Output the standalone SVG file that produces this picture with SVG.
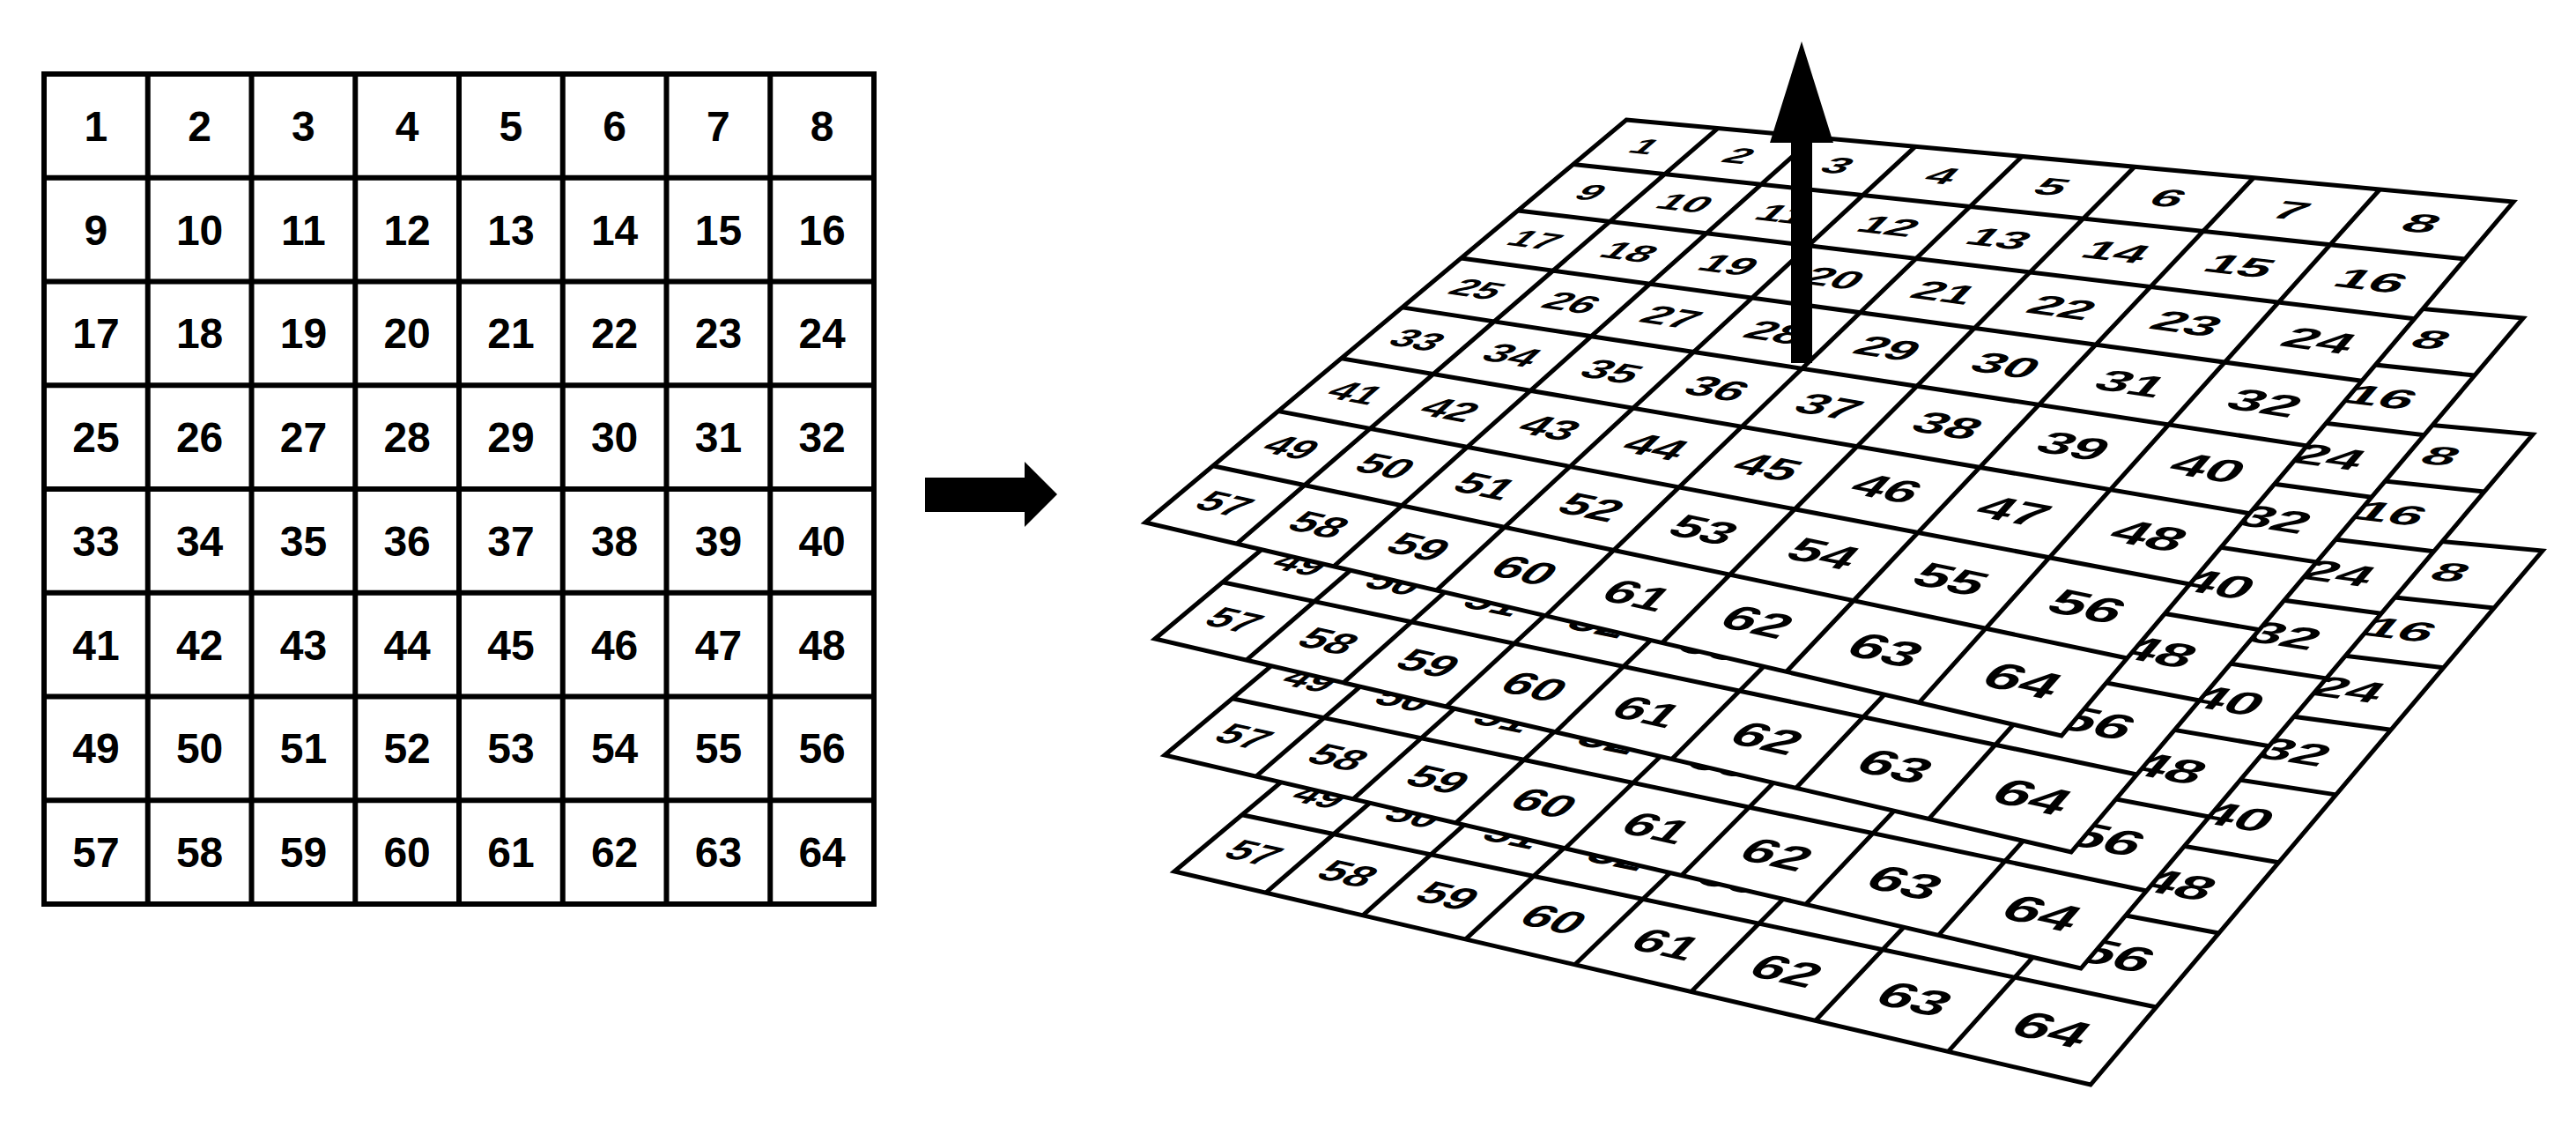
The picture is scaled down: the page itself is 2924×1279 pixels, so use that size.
<svg xmlns="http://www.w3.org/2000/svg" xmlns:xlink="http://www.w3.org/1999/xlink" width="2924" height="1279" viewBox="0 0 2924 1279">
<style>
.g{fill:none;stroke:#000;stroke-width:6}
.f{fill:#fff;stroke:#000;stroke-width:5;stroke-linejoin:miter}
.pl{fill:none;stroke:#000;stroke-width:5}
.t{font-family:"Liberation Sans",Arial,sans-serif;font-weight:bold;font-size:48px;text-anchor:middle;fill:#000}
.p{font-family:"Liberation Sans",Arial,sans-serif;font-weight:bold;font-size:44px;text-anchor:middle;fill:#000}
.a{fill:#000}
</style>
<defs>
<g id="plate">
<polygon class="f" points="1846,136 2853,229 2340,835 1300,593"/>
<path class="pl" d="M1949.9,145.6L1403.8,617.2M2059.1,155.7L1513.9,642.8M2174,166.3L1630.6,669.9M2295.2,177.5L1754.6,698.8M2423,189.3L1886.7,729.5M2558.1,201.8L2027.7,762.3M2701.3,215L2178.4,797.4M1785.5,186.6L2798,294M1723,238.9L2740.7,361.7M1658.4,293L2680.9,432.3M1591.6,348.9L2618.6,505.9M1522.5,406.7L2553.6,582.7M1451,466.6L2485.6,663M1376.8,528.7L2414.5,747"/>
<g class="p">
<text y="15" transform="matrix(1.04 .103 -.604 .513 1867.4 166.2)">1</text>
<text y="15" transform="matrix(1.109 .110 -.597 .531 1973.9 176.8)">2</text>
<text y="15" transform="matrix(1.178 .117 -.591 .549 2086.1 187.9)">3</text>
<text y="15" transform="matrix(1.247 .124 -.584 .567 2204.4 199.6)">4</text>
<text y="15" transform="matrix(1.317 .130 -.578 .585 2329.1 212)">5</text>
<text y="15" transform="matrix(1.386 .137 -.571 .603 2461 225)">6</text>
<text y="15" transform="matrix(1.455 .144 -.565 .621 2600.5 238.9)">7</text>
<text y="15" transform="matrix(1.524 .151 -.558 .639 2748.4 253.5)">8</text>
<text y="15" transform="matrix(1.04 .121 -.628 .533 1806 218.4)">9</text>
<text y="15" transform="matrix(1.111 .129 -.622 .553 1912.8 230.5)">10</text>
<text y="15" transform="matrix(1.182 .138 -.616 .572 2025.3 243.2)">11</text>
<text y="15" transform="matrix(1.253 .146 -.610 .592 2144 256.7)">12</text>
<text y="15" transform="matrix(1.323 .155 -.604 .611 2269.3 270.9)">13</text>
<text y="15" transform="matrix(1.394 .163 -.598 .631 2402 285.9)">14</text>
<text y="15" transform="matrix(1.465 .172 -.592 .650 2542.4 301.8)">15</text>
<text y="15" transform="matrix(1.536 .180 -.586 .670 2691.5 318.7)">16</text>
<text y="15" transform="matrix(1.04 .139 -.651 .553 1742.5 272.3)">17</text>
<text y="15" transform="matrix(1.113 .149 -.646 .574 1849.5 286.1)">18</text>
<text y="15" transform="matrix(1.185 .159 -.640 .596 1962.3 300.6)">19</text>
<text y="15" transform="matrix(1.258 .169 -.635 .617 2081.4 315.8)">20</text>
<text y="15" transform="matrix(1.331 .179 -.629 .638 2207.3 332)">21</text>
<text y="15" transform="matrix(1.404 .189 -.624 .659 2340.6 349.1)">22</text>
<text y="15" transform="matrix(1.476 .199 -.618 .681 2482.1 367.2)">23</text>
<text y="15" transform="matrix(1.549 .209 -.613 .702 2632.4 386.5)">24</text>
<text y="15" transform="matrix(1.04 .157 -.675 .573 1676.8 328.2)">25</text>
<text y="15" transform="matrix(1.114 .169 -.670 .596 1784 343.6)">26</text>
<text y="15" transform="matrix(1.189 .180 -.665 .619 1897 359.9)">27</text>
<text y="15" transform="matrix(1.263 .192 -.660 .642 2016.5 377.2)">28</text>
<text y="15" transform="matrix(1.338 .203 -.656 .664 2142.9 395.4)">29</text>
<text y="15" transform="matrix(1.412 .215 -.651 .687 2276.9 414.8)">30</text>
<text y="15" transform="matrix(1.487 .226 -.646 .710 2419.3 435.4)">31</text>
<text y="15" transform="matrix(1.561 .238 -.641 .733 2570.7 457.2)">32</text>
<text y="15" transform="matrix(1.04 .176 -.699 .594 1608.9 385.9)">33</text>
<text y="15" transform="matrix(1.116 .189 -.695 .619 1716.1 403.2)">34</text>
<text y="15" transform="matrix(1.192 .203 -.690 .643 1829.3 421.5)">35</text>
<text y="15" transform="matrix(1.268 .216 -.686 .668 1949.1 440.9)">36</text>
<text y="15" transform="matrix(1.345 .229 -.681 .692 2075.9 461.4)">37</text>
<text y="15" transform="matrix(1.421 .242 -.677 .717 2210.6 483.1)">38</text>
<text y="15" transform="matrix(1.497 .256 -.672 .741 2353.8 506.3)">39</text>
<text y="15" transform="matrix(1.573 .269 -.668 .766 2506.3 530.9)">40</text>
<text y="15" transform="matrix(1.04 .194 -.723 .614 1538.5 445.7)">41</text>
<text y="15" transform="matrix(1.118 .209 -.719 .640 1645.7 465)">42</text>
<text y="15" transform="matrix(1.196 .224 -.715 .666 1759 485.4)">43</text>
<text y="15" transform="matrix(1.274 .239 -.711 .692 1879.1 507)">44</text>
<text y="15" transform="matrix(1.351 .253 -.708 .719 2006.3 529.9)">45</text>
<text y="15" transform="matrix(1.429 .268 -.704 .745 2141.6 554.3)">46</text>
<text y="15" transform="matrix(1.507 .283 -.700 .771 2285.6 580.2)">47</text>
<text y="15" transform="matrix(1.585 .298 -.696 .797 2439.2 607.9)">48</text>
<text y="15" transform="matrix(1.04 .212 -.746 .634 1465.6 507.7)">49</text>
<text y="15" transform="matrix(1.12 .228 -.743 .662 1572.7 529.1)">50</text>
<text y="15" transform="matrix(1.199 .245 -.739 .690 1686.1 551.7)">51</text>
<text y="15" transform="matrix(1.279 .261 -.736 .718 1806.3 575.8)">52</text>
<text y="15" transform="matrix(1.359 .278 -.733 .745 1933.9 601.3)">53</text>
<text y="15" transform="matrix(1.439 .294 -.730 .773 2069.7 628.4)">54</text>
<text y="15" transform="matrix(1.518 .311 -.726 .801 2214.4 657.4)">55</text>
<text y="15" transform="matrix(1.598 .327 -.723 .829 2369.1 688.3)">56</text>
<text y="15" transform="matrix(1.04 .230 -.770 .654 1390 571.9)">57</text>
<text y="15" transform="matrix(1.121 .248 -.767 .683 1497 595.6)">58</text>
<text y="15" transform="matrix(1.203 .266 -.765 .713 1610.3 620.7)">59</text>
<text y="15" transform="matrix(1.284 .284 -.762 .742 1730.6 647.3)">60</text>
<text y="15" transform="matrix(1.366 .302 -.759 .772 1858.5 675.6)">61</text>
<text y="15" transform="matrix(1.447 .320 -.756 .801 1994.7 705.7)">62</text>
<text y="15" transform="matrix(1.529 .338 -.754 .830 2140.1 737.9)">63</text>
<text y="15" transform="matrix(1.61 .356 -.751 .860 2295.7 772.4)">64</text>
</g>
</g>
</defs>

<g id="grid2d">
<rect class="g" x="50" y="84" width="942" height="942" fill="#fff"/>
<path class="g" d="M167.75,84V1026M285.5,84V1026M403.25,84V1026M521,84V1026M638.75,84V1026M756.5,84V1026M874.25,84V1026M50,201.75H992M50,319.5H992M50,437.25H992M50,555H992M50,672.75H992M50,790.5H992M50,908.25H992"/>
<g class="t">
<text x="108.9" y="159.9">1</text><text x="226.6" y="159.9">2</text><text x="344.4" y="159.9">3</text><text x="462.1" y="159.9">4</text><text x="579.9" y="159.9">5</text><text x="697.6" y="159.9">6</text><text x="815.4" y="159.9">7</text><text x="933.1" y="159.9">8</text>
<text x="108.9" y="277.6">9</text><text x="226.6" y="277.6">10</text><text x="344.4" y="277.6">11</text><text x="462.1" y="277.6">12</text><text x="579.9" y="277.6">13</text><text x="697.6" y="277.6">14</text><text x="815.4" y="277.6">15</text><text x="933.1" y="277.6">16</text>
<text x="108.9" y="395.4">17</text><text x="226.6" y="395.4">18</text><text x="344.4" y="395.4">19</text><text x="462.1" y="395.4">20</text><text x="579.9" y="395.4">21</text><text x="697.6" y="395.4">22</text><text x="815.4" y="395.4">23</text><text x="933.1" y="395.4">24</text>
<text x="108.9" y="513.1">25</text><text x="226.6" y="513.1">26</text><text x="344.4" y="513.1">27</text><text x="462.1" y="513.1">28</text><text x="579.9" y="513.1">29</text><text x="697.6" y="513.1">30</text><text x="815.4" y="513.1">31</text><text x="933.1" y="513.1">32</text>
<text x="108.9" y="630.9">33</text><text x="226.6" y="630.9">34</text><text x="344.4" y="630.9">35</text><text x="462.1" y="630.9">36</text><text x="579.9" y="630.9">37</text><text x="697.6" y="630.9">38</text><text x="815.4" y="630.9">39</text><text x="933.1" y="630.9">40</text>
<text x="108.9" y="748.6">41</text><text x="226.6" y="748.6">42</text><text x="344.4" y="748.6">43</text><text x="462.1" y="748.6">44</text><text x="579.9" y="748.6">45</text><text x="697.6" y="748.6">46</text><text x="815.4" y="748.6">47</text><text x="933.1" y="748.6">48</text>
<text x="108.9" y="866.4">49</text><text x="226.6" y="866.4">50</text><text x="344.4" y="866.4">51</text><text x="462.1" y="866.4">52</text><text x="579.9" y="866.4">53</text><text x="697.6" y="866.4">54</text><text x="815.4" y="866.4">55</text><text x="933.1" y="866.4">56</text>
<text x="108.9" y="984.1">57</text><text x="226.6" y="984.1">58</text><text x="344.4" y="984.1">59</text><text x="462.1" y="984.1">60</text><text x="579.9" y="984.1">61</text><text x="697.6" y="984.1">62</text><text x="815.4" y="984.1">63</text><text x="933.1" y="984.1">64</text>
</g>
</g>

<g id="layer4"><use xlink:href="#plate" href="#plate" transform="translate(33,396)"/></g>
<g id="layer3"><use xlink:href="#plate" href="#plate" transform="translate(22,264)"/></g>
<g id="layer2"><use xlink:href="#plate" href="#plate" transform="translate(11,132)"/></g>
<g id="layer1"><use xlink:href="#plate" href="#plate"/></g>

<g id="connectors">
<polygon class="a" points="1050,542 1163,542 1163,524 1200,561 1163,598 1163,581 1050,581"/>
<polygon class="a" points="2033,412 2057,412 2057,162 2081,162 2045,47 2009,162 2033,162"/>
</g>
</svg>
